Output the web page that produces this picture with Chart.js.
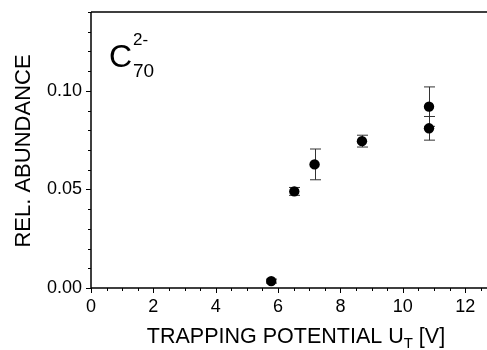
<!DOCTYPE html>
<html>
<head>
<meta charset="utf-8">
<script src="https://cdn.jsdelivr.net/npm/chart.js@4/dist/chart.umd.min.js"></script>
<style>
  html, body { margin: 0; padding: 0; background: #fff; }
  #wrap { width: 487px; height: 350px; position: relative; }
</style>
</head>
<body>
<div id="wrap"><canvas id="c" width="487" height="350"></canvas></div>
<script>
// ---- data ----
const trappingPotential = [5.78, 6.52, 7.17, 8.69, 10.84, 10.84];
const relAbundance      = [0.0035, 0.049, 0.0627, 0.0745, 0.092, 0.081];
const abundanceError    = [0.001, 0.002, 0.0078, 0.003, 0.010, 0.006];
const xTickValues = [0, 2, 4, 6, 8, 10, 12];
const yTickValues = [0.00, 0.05, 0.10];
const xTitleMain = "TRAPPING POTENTIAL U";
const xTitleSub = "T";
const xTitleEnd = " [V]";
const yTitle = "REL. ABUNDANCE";
const labelBase = "C", labelSup = "2-", labelSub = "70";

const FONT = "'Liberation Sans', Arial, sans-serif";

const points = trappingPotential.map((x, i) => ({ x: x, y: relAbundance[i] }));

const decorPlugin = {
  id: 'decor',
  beforeDatasetsDraw(chart) {
    const ctx = chart.ctx;
    const xs = chart.scales.x, ys = chart.scales.y;
    ctx.save();
    ctx.strokeStyle = '#333';
    ctx.lineWidth = 1;
    trappingPotential.forEach((xv, i) => {
      const px = Math.round(xs.getPixelForValue(xv)) + 0.5;
      const top = ys.getPixelForValue(relAbundance[i] + abundanceError[i]);
      const bot = ys.getPixelForValue(relAbundance[i] - abundanceError[i]);
      ctx.beginPath();
      ctx.moveTo(px, top); ctx.lineTo(px, bot);
      ctx.moveTo(px - 5.5, top); ctx.lineTo(px + 5.5, top);
      ctx.moveTo(px - 5.5, bot); ctx.lineTo(px + 5.5, bot);
      ctx.stroke();
    });
    ctx.restore();
  },
  afterDraw(chart) {
    const ctx = chart.ctx;
    const a = chart.chartArea;
    const xs = chart.scales.x, ys = chart.scales.y;
    ctx.save();
    ctx.strokeStyle = '#000';
    ctx.lineWidth = 1.5;
    ctx.beginPath();
    ctx.moveTo(a.left, a.top); ctx.lineTo(a.left, a.bottom);
    ctx.moveTo(a.left, a.bottom); ctx.lineTo(a.right, a.bottom);
    ctx.moveTo(a.left, a.top); ctx.lineTo(a.right, a.top);
    ctx.stroke();
    ctx.lineWidth = 1;
    ctx.beginPath();
    for (let v = 0; v <= xs.max + 1e-9; v += 0.5) {
      const px = Math.round(xs.getPixelForValue(v)) + 0.5;
      const major = Math.abs(v / 2 - Math.round(v / 2)) < 1e-6;
      ctx.moveTo(px, a.bottom); ctx.lineTo(px, a.bottom + (major ? 5 : 3));
    }
    for (let k = 0; k <= 14; k++) {
      const v = k * 0.01;
      const py = Math.round(ys.getPixelForValue(v)) + 0.5;
      const major = k % 5 === 0;
      ctx.moveTo(a.left, py); ctx.lineTo(a.left - (major ? 5 : 3), py);
    }
    ctx.stroke();

    ctx.fillStyle = '#000';
    ctx.textBaseline = 'alphabetic';
    const mainFont = '21.5px ' + FONT;
    const subFont = '15px ' + FONT;
    ctx.font = mainFont;
    const w1 = ctx.measureText(xTitleMain).width;
    const w3 = ctx.measureText(xTitleEnd).width;
    ctx.font = subFont;
    const w2 = ctx.measureText(xTitleSub).width;
    const total = w1 + w2 + w3;
    let sx = 296 - total / 2;
    const by = 343;
    ctx.font = mainFont;
    ctx.textAlign = 'left';
    ctx.fillText(xTitleMain, sx, by);
    ctx.font = subFont;
    ctx.fillText(xTitleSub, sx + w1, by + 5);
    ctx.font = mainFont;
    ctx.fillText(xTitleEnd, sx + w1 + w2, by);

    ctx.save();
    ctx.translate(30, 151);
    ctx.rotate(-Math.PI / 2);
    ctx.textAlign = 'center';
    ctx.font = '22px ' + FONT;
    ctx.fillText(yTitle, 0, 0);
    ctx.restore();

    ctx.textAlign = 'left';
    ctx.font = '32px ' + FONT;
    ctx.fillText(labelBase, 109, 66.5);
    ctx.font = '17px ' + FONT;
    ctx.fillText(labelSup, 133, 45);
    ctx.font = '19px ' + FONT;
    ctx.fillText(labelSub, 133, 76.5);
    ctx.restore();
  }
};

new Chart(document.getElementById('c'), {
  type: 'scatter',
  data: {
    datasets: [{
      data: points,
      backgroundColor: '#000',
      borderColor: '#000',
      pointRadius: 5.2,
      pointHoverRadius: 5.2,
      borderWidth: 0,
      clip: false
    }]
  },
  options: {
    responsive: false,
    animation: false,
    events: [],
    layout: { autoPadding: false, padding: { top: 12, right: 0, left: 0, bottom: 0 } },
    plugins: { legend: { display: false }, tooltip: { enabled: false } },
    scales: {
      x: {
        type: 'linear',
        min: 0, max: 12.7,
        afterFit(scale) { scale.height = 62; scale.paddingLeft = 0; scale.paddingRight = 0; scale.paddingTop = 0; scale.paddingBottom = 0; },
        afterBuildTicks(scale) { scale.ticks = xTickValues.map(v => ({ value: v })); },
        grid: { display: false, drawTicks: false },
        border: { display: false },
        ticks: {
          padding: 8,
          color: '#000',
          font: { family: FONT, size: 18 },
          maxRotation: 0,
          autoSkip: false,
          callback: (v) => String(v)
        }
      },
      y: {
        type: 'linear',
        min: 0, max: 0.14,
        afterFit(scale) { scale.width = 91; scale.paddingLeft = 0; scale.paddingRight = 0; scale.paddingTop = 0; scale.paddingBottom = 0; },
        afterBuildTicks(scale) { scale.ticks = yTickValues.map(v => ({ value: v })); },
        grid: { display: false, drawTicks: false },
        border: { display: false },
        ticks: {
          padding: 9,
          color: '#000',
          font: { family: FONT, size: 18 },
          autoSkip: false,
          callback: (v) => Number(v).toFixed(2)
        }
      }
    }
  },
  plugins: [decorPlugin]
});
</script>
</body>
</html>
